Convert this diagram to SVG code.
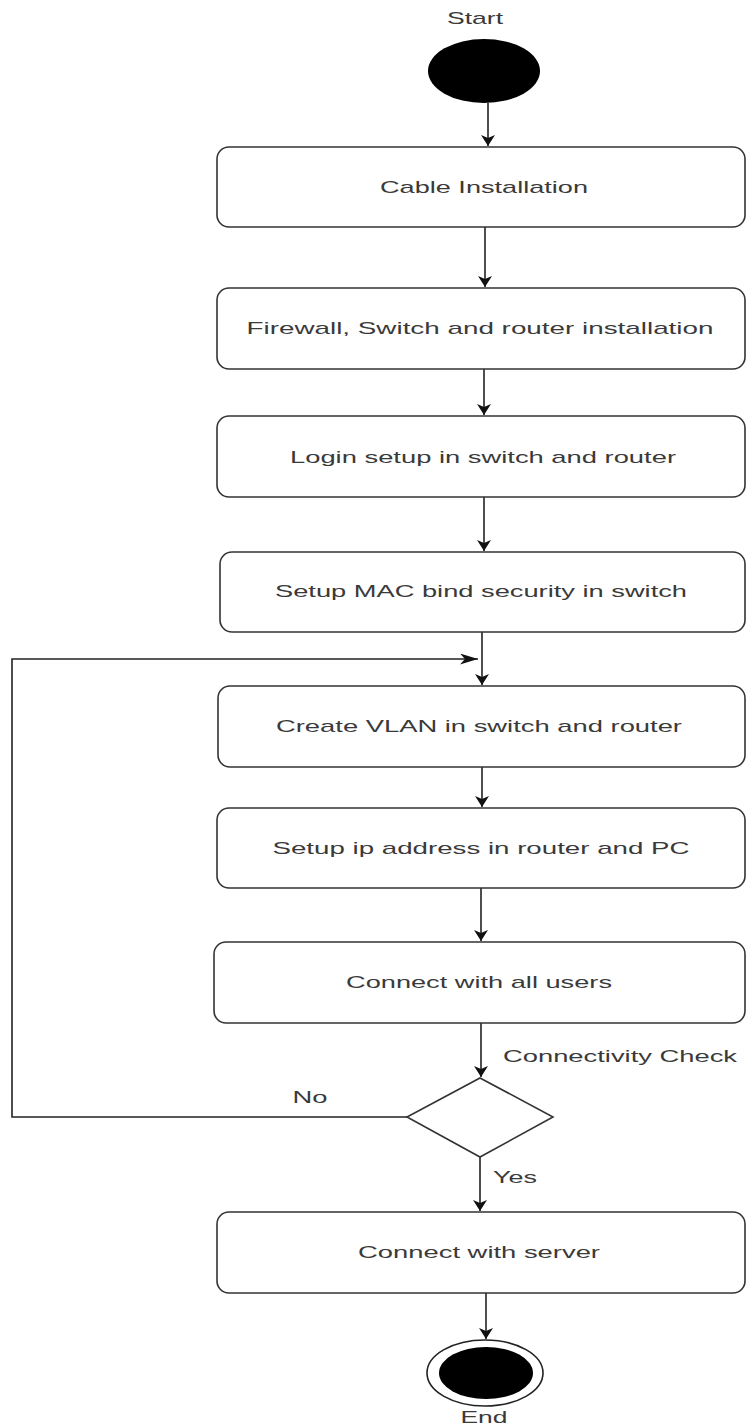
<svg xmlns="http://www.w3.org/2000/svg" width="747" height="1427" viewBox="0 0 747 1427">
<style>
.box{fill:#fff;stroke:#333;stroke-width:1.6}
.lbl{font-family:"Liberation Sans",Arial,sans-serif;font-size:17px;fill:#3a3a3a;text-anchor:middle}
.lft{text-anchor:start}
.edge{fill:none;stroke:#222;stroke-width:1.6}
</style>
<defs>
<marker id="ad" markerUnits="userSpaceOnUse" markerWidth="13" markerHeight="16" refX="11" refY="7" orient="auto" viewBox="0 0 13 16">
<path d="M0,0 L11,7 L0,14 L3,7 z" fill="#111"/>
</marker>
<marker id="ar" markerUnits="userSpaceOnUse" markerWidth="20" markerHeight="12" refX="18" refY="5.5" orient="auto" viewBox="0 0 20 12">
<path d="M0,0 L18,5.5 L0,11 L5,5.5 z" fill="#111"/>
</marker>
</defs>
<g id="connectors">
<path class="edge" d="M488,103 L488,146" marker-end="url(#ad)"/>
<path class="edge" d="M485,227 L485,287" marker-end="url(#ad)"/>
<path class="edge" d="M484,369 L484,415" marker-end="url(#ad)"/>
<path class="edge" d="M484,497 L484,551" marker-end="url(#ad)"/>
<path class="edge" d="M482,632 L482,685" marker-end="url(#ad)"/>
<path class="edge" d="M482,767 L482,807" marker-end="url(#ad)"/>
<path class="edge" d="M481,888 L481,941" marker-end="url(#ad)"/>
<path class="edge" d="M481,1023 L481,1077" marker-end="url(#ad)"/>
<path class="edge" d="M480,1157 L480,1211" marker-end="url(#ad)"/>
<path class="edge" d="M486,1293 L486,1339" marker-end="url(#ad)"/>
<path class="edge" d="M407,1117 L12,1117 L12,659 L478,659" marker-end="url(#ar)"/>
<text class="lbl lft" x="503" y="1062" textLength="234" lengthAdjust="spacingAndGlyphs">Connectivity Check</text>
<text class="lbl" x="310" y="1103" textLength="35" lengthAdjust="spacingAndGlyphs">No</text>
<text class="lbl" x="515" y="1183" textLength="44" lengthAdjust="spacingAndGlyphs">Yes</text>
</g>
<g id="start">
<text class="lbl" x="475" y="24" textLength="56" lengthAdjust="spacingAndGlyphs">Start</text>
<ellipse cx="484" cy="71" rx="56" ry="32" fill="#000"/>
</g>
<g id="n1">
<rect class="box" x="217" y="147" width="528" height="80" rx="12" ry="12"/>
<text class="lbl" x="484" y="193" textLength="208" lengthAdjust="spacingAndGlyphs">Cable Installation</text>
</g>
<g id="n2">
<rect class="box" x="217" y="288" width="528" height="81" rx="12" ry="12"/>
<text class="lbl" x="480" y="334" textLength="467" lengthAdjust="spacingAndGlyphs">Firewall, Switch and router installation</text>
</g>
<g id="n3">
<rect class="box" x="217" y="416" width="528" height="81" rx="12" ry="12"/>
<text class="lbl" x="483" y="463" textLength="386" lengthAdjust="spacingAndGlyphs">Login setup in switch and router</text>
</g>
<g id="n4">
<rect class="box" x="220" y="552" width="525" height="80" rx="12" ry="12"/>
<text class="lbl" x="481" y="597" textLength="412" lengthAdjust="spacingAndGlyphs">Setup MAC bind security in switch</text>
</g>
<g id="n5">
<rect class="box" x="218" y="686" width="527" height="81" rx="12" ry="12"/>
<text class="lbl" x="479" y="732" textLength="406" lengthAdjust="spacingAndGlyphs">Create VLAN in switch and router</text>
</g>
<g id="n6">
<rect class="box" x="217" y="808" width="528" height="80" rx="12" ry="12"/>
<text class="lbl" x="481" y="854" textLength="417" lengthAdjust="spacingAndGlyphs">Setup ip address in router and PC</text>
</g>
<g id="n7">
<rect class="box" x="214" y="942" width="531" height="81" rx="12" ry="12"/>
<text class="lbl" x="479" y="988" textLength="266" lengthAdjust="spacingAndGlyphs">Connect with all users</text>
</g>
<g id="decision">
<polygon class="box" points="480,1078 553,1117 480,1157 407,1117"/>
</g>
<g id="n8">
<rect class="box" x="217" y="1212" width="528" height="81" rx="12" ry="12"/>
<text class="lbl" x="479" y="1258" textLength="242" lengthAdjust="spacingAndGlyphs">Connect with server</text>
</g>
<g id="end">
<ellipse cx="485" cy="1373" rx="58" ry="33" fill="#fff" stroke="#222" stroke-width="1.6"/>
<ellipse cx="486" cy="1373" rx="47" ry="26" fill="#000"/>
<text class="lbl" x="484" y="1423" textLength="47" lengthAdjust="spacingAndGlyphs">End</text>
</g>
</svg>
